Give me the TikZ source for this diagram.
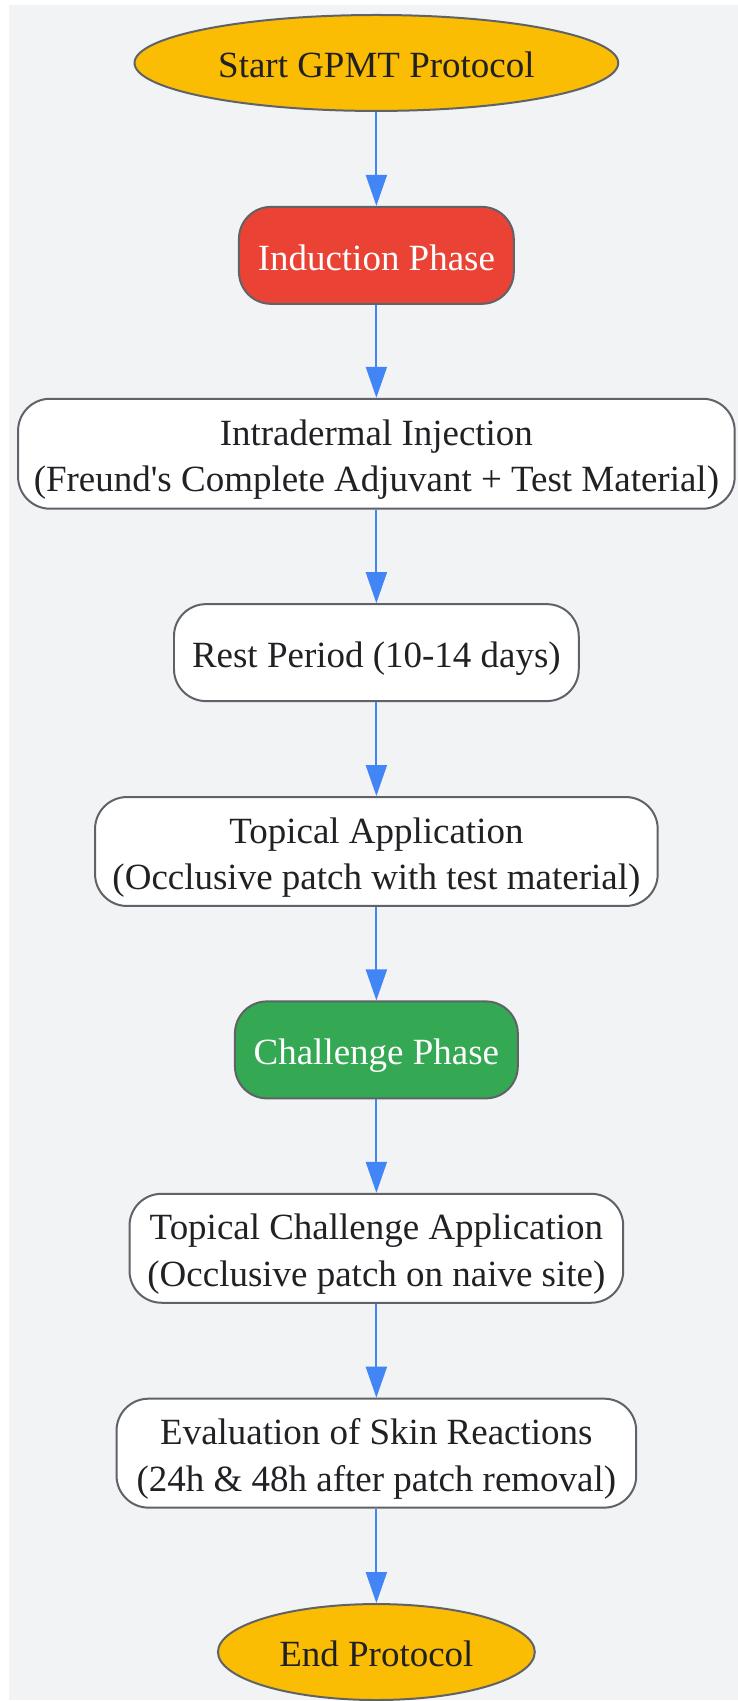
\documentclass[tikz,border=0pt]{standalone}
\usepackage{fontspec}
\setmainfont{Liberation Serif}
\usetikzlibrary{arrows.meta,shapes.geometric}
\definecolor{bgcol}{HTML}{F1F3F4}
\definecolor{edgecol}{HTML}{5F6368}
\definecolor{txtcol}{HTML}{202124}
\definecolor{arrcol}{HTML}{4285F4}
\definecolor{termcol}{HTML}{FBBC04}
\definecolor{inducol}{HTML}{EA4335}
\definecolor{challcol}{HTML}{34A853}
\newcommand{\linestrut}{\rule[-8pt]{0pt}{45.4pt}}
\begin{document}
\begin{tikzpicture}[x=1pt,y=-1pt,
  every node/.style={font=\fontsize{37}{44}\selectfont, text=txtcol, align=center,
    draw=edgecol, line width=2pt, inner sep=0pt,
    execute at begin node=\linestrut, execute at end node=\linestrut},
  term/.style={ellipse, fill=termcol, minimum height=96pt},
  phase/.style={rounded corners=32pt, text=white, minimum height=97pt},
  stepbox/.style={rounded corners=32pt, fill=white, minimum height=109pt},
  flow/.style={draw=arrcol, line width=2pt, -{Triangle[length=31pt,width=21pt]}}]
% background
\fill[white] (0,0) rectangle (738,1701);
\fill[bgcol] (9,5) rectangle (738,1701);
% nodes
\node[term, minimum width=484pt] (start) at (376.6,63) {Start GPMT Protocol};
\node[phase, fill=inducol, minimum width=275pt] (induct) at (376.6,255.5) {Induction Phase};
\node[stepbox, minimum width=717pt, minimum height=110pt] (inject) at (376.6,454)
  {Intradermal Injection\linestrut\\(Freund\textquotesingle s Complete Adjuvant + Test Material)\linestrut};
\node[stepbox, minimum width=405pt, minimum height=97pt] (rest) at (376.6,653) {Rest Period (10-14 days)};
\node[stepbox, minimum width=563pt] (topical) at (376.6,852)
  {Topical Application\linestrut\\(Occlusive patch with test material)\linestrut};
\node[phase, fill=challcol, minimum width=283pt] (challenge) at (376.6,1050.5) {Challenge Phase};
\node[stepbox, minimum width=494pt] (chalapp) at (376.6,1249)
  {Topical Challenge Application\linestrut\\(Occlusive patch on naive site)\linestrut};
\node[stepbox, minimum width=520pt] (evalskin) at (376.6,1454)
  {Evaluation of Skin Reactions\linestrut\\(24h \& 48h after patch removal)\linestrut};
\node[term, minimum width=317pt] (endprot) at (376.6,1653) {End Protocol};
% connectors
\foreach \a/\b in {start/induct, induct/inject, inject/rest, rest/topical,
  topical/challenge, challenge/chalapp, chalapp/evalskin, evalskin/endprot}
  \draw[flow] (\a) -- (\b);
\end{tikzpicture}
\end{document}
